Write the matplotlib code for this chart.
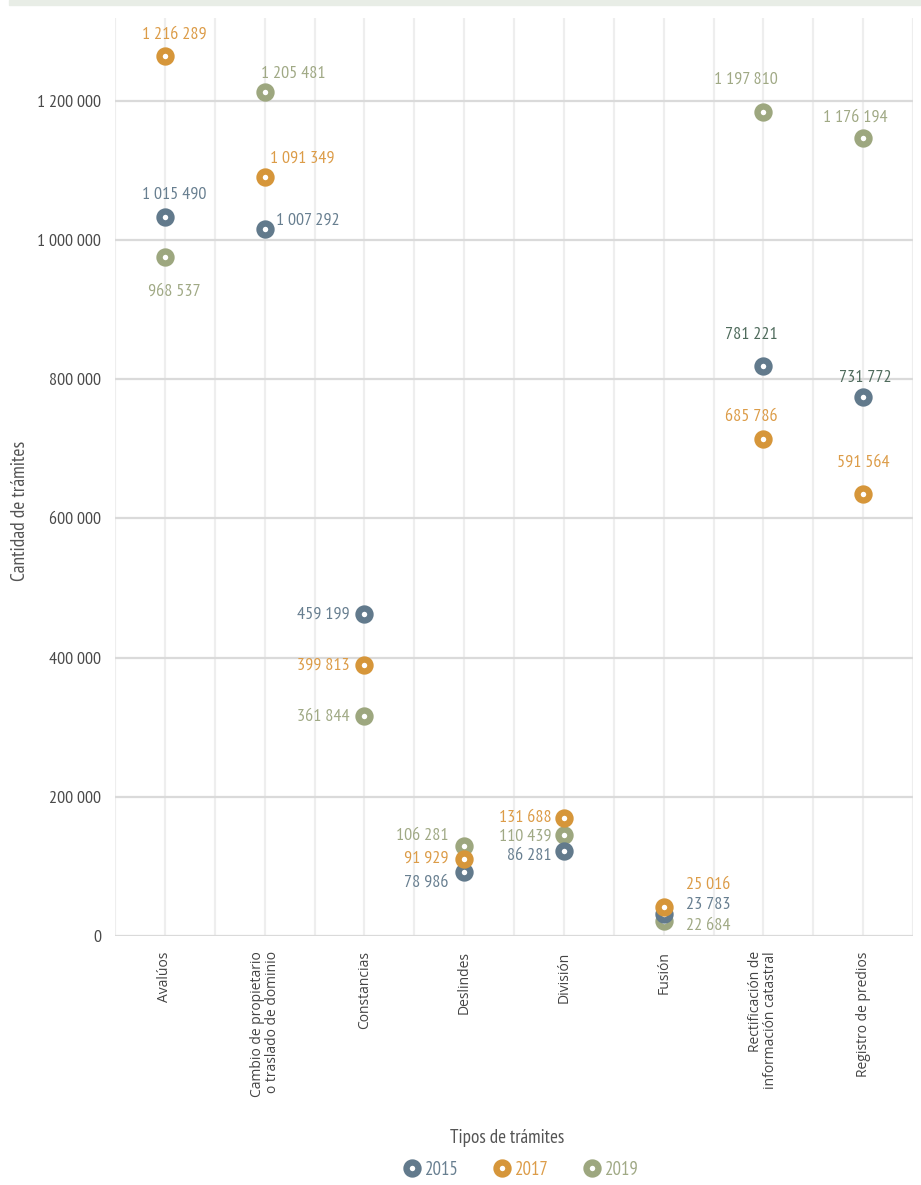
import matplotlib
matplotlib.use("Agg")
import matplotlib.pyplot as plt
from matplotlib import font_manager as fm
from matplotlib.lines import Line2D
from matplotlib.patches import Rectangle

# categorías del eje x
categorias = ['Avalúos', 'Cambio de propietario\no traslado de dominio', 'Constancias',
              'Deslindes', 'División', 'Fusión',
              'Rectificación de\ninformación catastral', 'Registro de predios']
anios = ['2015', '2017', '2019']

# valores publicados (etiquetas)
etiq_2015 = [1015490, 1007292, 459199, 78986, 86281, 23783, 781221, 731772]
etiq_2017 = [1216289, 1091349, 399813, 91929, 131688, 25016, 685786, 591564]
etiq_2019 = [968537, 1205481, 361844, 106281, 110439, 22684, 1197810, 1176194]

# posición de los puntos tal como aparecen en el gráfico
pos_2015 = [1033000, 1016000, 463000, 92000, 122000, 31000, 819000, 775000]
pos_2017 = [1264000, 1090000, 390000, 111000, 169000, 41000, 714000, 635000]
pos_2019 = [975000, 1212000, 316000, 129000, 145000, 21000, 1184000, 1147000]

yticks = [0, 200000, 400000, 600000, 800000, 1000000, 1200000]

colores = {'2015': '#627a8c', '2017': '#d6963a', '2019': '#9da77f'}
col_texto = {'2015': '#687f90', '2017': '#dc9c48', '2019': '#a0a985'}

# desplazamiento de cada etiqueta (px) y alineación
offs = {
    '2015': [(9, 23, 'center'), (11, 9, 'left'), (-15, 0, 'right'), (-16, -10, 'right'),
             (-12, -4, 'right'), (22, 10, 'left'), (-12, 32, 'center'), (2, 20, 'center')],
    '2017': [(9, 23, 'center'), (38, 20, 'center'), (-15, 0, 'right'), (-16, 1, 'right'),
             (-12, 1, 'right'), (22, 23, 'left'), (-12, 23, 'center'), (0, 32, 'center')],
    '2019': [(9, -33, 'center'), (29, 19, 'center'), (-15, 0, 'right'), (-16, 11, 'right'),
             (-12, -1, 'right'), (22, -4, 'left'), (-18, 33, 'center'), (-8, 21, 'center')],
}

# fuente angosta si está disponible
disponibles = {f.name for f in fm.fontManager.ttflist}
candidatas = ['PT Sans Narrow', 'Fira Sans Condensed', 'Roboto Condensed',
              'Liberation Sans Narrow', 'Open Sans Condensed']
NARROW = [n for n in candidatas if n in disponibles] + ['DejaVu Sans']
WIDE = ['Open Sans', 'DejaVu Sans']

fig = plt.figure(figsize=(9.21, 11.85), dpi=100)
fig.patches.append(Rectangle((9 / 921, 1 - 5 / 1185), 911 / 921, 5 / 1185,
                             transform=fig.transFigure, color='#e8ede6', zorder=0))
ax = fig.add_axes([115 / 921, 1 - 936 / 1185, 798 / 921, 918 / 1185])

x = list(range(len(categorias)))
series = {'2015': (pos_2015, etiq_2015), '2017': (pos_2017, etiq_2017),
          '2019': (pos_2019, etiq_2019)}
orden = ['2019', '2015', '2017']
for a in orden:
    pos, etq = series[a]
    ax.plot(x, pos, linestyle='none', marker='o', markersize=8.6,
            markerfacecolor='white', markeredgecolor=colores[a],
            markeredgewidth=4.6, zorder=3)
    for i, (p, v) in enumerate(zip(pos, etq)):
        dx, dy, ha = offs[a][i]
        c = col_texto[a]
        if a == '2015' and i in (6, 7):
            c = '#4f6b5c'
        ax.annotate(f"{v:,}".replace(',', ' '), (i, p), xytext=(dx, dy - 1),
                    textcoords='offset pixels', ha=ha, va='center',
                    fontsize=13, color=c, family=NARROW, zorder=4)

ax.set_xlim(-0.49, 7.44)
ax.set_ylim(0, 1319000)
ax.set_xticks(x)
ax.set_xticklabels(categorias, rotation=90, ha='center', va='top', ma='right',
                   fontsize=10, color='#444444', family=WIDE, linespacing=1.0)
ax.set_xticks([i + 0.5 for i in range(-1, 8)], minor=True)
ax.set_yticks(yticks)
ax.set_yticklabels([f"{v:,}".replace(',', ' ') for v in yticks],
                   fontsize=13, color='#4a4a4a', family=NARROW)
ax.tick_params(axis='both', which='both', length=0)
ax.tick_params(axis='y', pad=10)
ax.tick_params(axis='x', pad=11)

ax.grid(axis='y', which='major', color='#dadada', linewidth=1.6, zorder=1)
ax.grid(axis='x', which='both', color='#eeeeee', linewidth=1.6, zorder=0)
for s in ax.spines.values():
    s.set_visible(False)
ax.set_axisbelow(True)

fig.text(20 / 921, 1 - 511 / 1185, 'Cantidad de trámites', rotation=90,
         ha='center', va='center', fontsize=14, color='#555555', family=NARROW)
fig.text(507 / 921, 1 - 1138 / 1185, 'Tipos de trámites', ha='center', va='center',
         fontsize=13.8, color='#555555', family=NARROW)

handles = [Line2D([], [], linestyle='none', marker='o', markersize=8.6,
                  markerfacecolor='white', markeredgecolor=colores[a],
                  markeredgewidth=4.6) for a in anios]
leg = fig.legend(handles, anios, loc='center', bbox_to_anchor=(522 / 921, 1 - 1170 / 1185),
                 ncol=3, frameon=False, handlelength=0.8, handletextpad=0.3,
                 columnspacing=1.9, prop={'family': NARROW, 'size': 13.5})
for t, a in zip(leg.get_texts(), anios):
    t.set_color(col_texto[a])

fig.savefig('out.png', dpi=100)
